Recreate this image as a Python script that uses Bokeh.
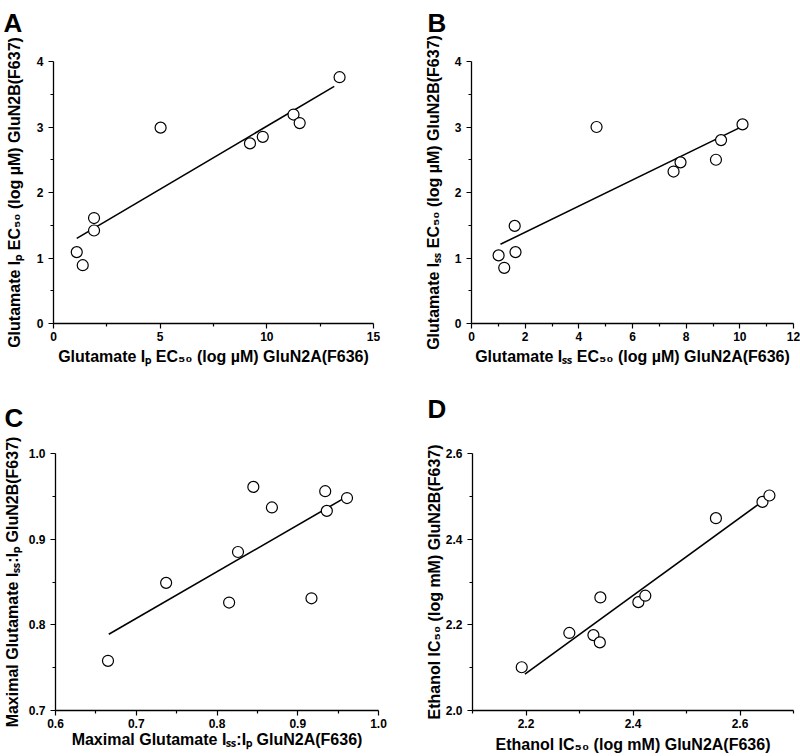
from bokeh.plotting import figure
from bokeh.models import Range1d, FixedTicker, NumeralTickFormatter, Label
from bokeh.layouts import column, row
from bokeh.embed import file_html
from bokeh.resources import INLINE

FONT = "Liberation Sans"

# ---------------- data ----------------
# Panel A: Glutamate Ip EC50
a_x = [1.09, 1.37, 1.90, 1.90, 5.02, 9.21, 9.81, 11.25, 11.54, 13.41]
a_y = [1.09, 0.89, 1.61, 1.42, 2.99, 2.75, 2.85, 3.19, 3.06, 3.76]
a_fit_x = [1.09, 13.16]
a_fit_y = [1.30, 3.62]

# Panel B: Glutamate Iss EC50
b_x = [1.01, 1.22, 1.61, 1.64, 4.66, 7.53, 7.79, 9.11, 9.30, 10.10]
b_y = [1.04, 0.85, 1.49, 1.09, 3.00, 2.32, 2.46, 2.50, 2.80, 3.04]
b_fit_x = [1.08, 10.0]
b_fit_y = [1.21, 2.99]

# Panel C: Maximal glutamate Iss:Ip
c_x = [0.665, 0.737, 0.815, 0.826, 0.845, 0.868, 0.917, 0.934, 0.936, 0.961]
c_y = [0.758, 0.849, 0.826, 0.885, 0.961, 0.937, 0.831, 0.956, 0.933, 0.948]
c_fit_x = [0.666, 0.956]
c_fit_y = [0.789, 0.947]

# Panel D: Ethanol IC50
d_x = [2.192, 2.281, 2.326, 2.338, 2.339, 2.410, 2.423, 2.555, 2.642, 2.655]
d_y = [2.101, 2.181, 2.176, 2.159, 2.264, 2.253, 2.268, 2.449, 2.487, 2.502]
d_fit_x = [2.198, 2.633]
d_fit_y = [2.085, 2.480]

# ticks
a_xticks = [0, 5, 10, 15]
a_xminor = [2.5, 7.5, 12.5]
a_yticks = [0, 1, 2, 3, 4]
a_yminor = [0.5, 1.5, 2.5, 3.5]

b_xticks = [0, 2, 4, 6, 8, 10, 12]
b_xminor = [1, 3, 5, 7, 9, 11]
b_yticks = [0, 1, 2, 3, 4]
b_yminor = [0.5, 1.5, 2.5, 3.5]

c_xticks = [0.6, 0.7, 0.8, 0.9, 1.0]
c_xminor = [0.65, 0.75, 0.85, 0.95]
c_yticks = [0.7, 0.8, 0.9, 1.0]
c_yminor = [0.75, 0.85, 0.95]

d_xticks = [2.2, 2.4, 2.6]
d_xminor = [2.1, 2.3, 2.5, 2.7]
d_yticks = [2.0, 2.2, 2.4, 2.6]
d_yminor = [2.1, 2.3, 2.5]

# titles
a_xtitle = "Glutamate I\u209a EC\u2085\u2080 (log \u00b5M) GluN2A(F636)"
a_ytitle = "Glutamate I\u209a EC\u2085\u2080 (log \u00b5M) GluN2B(F637)"
b_xtitle = "Glutamate I\u209b\u209b EC\u2085\u2080 (log \u00b5M) GluN2A(F636)"
b_ytitle = "Glutamate I\u209b\u209b EC\u2085\u2080 (log \u00b5M) GluN2B(F637)"
c_xtitle = "Maximal Glutamate I\u209b\u209b:I\u209a GluN2A(F636)"
c_ytitle = "Maximal Glutamate I\u209b\u209b:I\u209a GluN2B(F637)"
d_xtitle = "Ethanol IC\u2085\u2080 (log mM) GluN2A(F636)"
d_ytitle = "Ethanol IC\u2085\u2080 (log mM) GluN2B(F637)"

W, H = 400, 378


def panel(origin, frame, xr, yr, xt, xm, yt, ym, xs, ys, fx, fy,
          letter, letter_pos, xtitle, xstand, ytitle, ystand, fmt):
    ox, oy = origin
    fl, ft, fw, fh = frame
    bl = fl - ox
    bt = ft - oy
    p = figure(width=W, height=H, x_range=Range1d(*xr), y_range=Range1d(*yr),
               output_backend="svg", toolbar_location=None,
               min_border_left=bl, min_border_right=W - bl - fw,
               min_border_top=bt, min_border_bottom=H - bt - fh,
               background_fill_color="white", border_fill_color="white")
    p.grid.visible = False
    p.outline_line_color = None

    p.xaxis.ticker = FixedTicker(ticks=xt, minor_ticks=xm)
    p.yaxis.ticker = FixedTicker(ticks=yt, minor_ticks=ym)
    if fmt is not None:
        p.xaxis.formatter = NumeralTickFormatter(format=fmt)
        p.yaxis.formatter = NumeralTickFormatter(format=fmt)
    for ax in (p.xaxis, p.yaxis):
        ax.axis_line_color = "black"
        ax.axis_line_width = 1.3
        ax.major_tick_line_color = "black"
        ax.major_tick_line_width = 1.2
        ax.minor_tick_line_color = "black"
        ax.minor_tick_line_width = 1.2
        ax.major_tick_out = 5
        ax.major_tick_in = 0
        ax.minor_tick_out = 3
        ax.minor_tick_in = 0
        ax.major_label_text_font = FONT
        ax.major_label_text_font_style = "bold"
        ax.major_label_text_font_size = "12px"
        ax.major_label_text_color = "black"
        ax.axis_label_text_font = FONT
        ax.axis_label_text_font_style = "bold"
        ax.axis_label_text_font_size = "16px"
        ax.axis_label_text_color = "black"
    p.xaxis.major_label_standoff = 3
    p.yaxis.major_label_standoff = 5
    p.xaxis.axis_label = xtitle
    p.yaxis.axis_label = ytitle
    p.xaxis.axis_label_standoff = xstand
    p.yaxis.axis_label_standoff = ystand

    p.line(fx, fy, line_color="black", line_width=1.6)
    p.scatter(xs, ys, marker="circle", size=11, fill_color="white",
              line_color="black", line_width=1.2)

    # panel letter, placed in the side panel above the frame (not clipped)
    lx, ly = letter_pos
    p.add_layout(Label(x=lx - fl, y=ft - ly, x_units="screen", y_units="screen",
                       text=letter, text_font=FONT, text_font_style="bold",
                       text_font_size="26px", text_color="black",
                       text_align="left", text_baseline="alphabetic"), "above")
    return p


pA = panel((0, 0), (53, 61, 320, 262), (0, 15), (0, 4),
           a_xticks, a_xminor, a_yticks, a_yminor, a_x, a_y, a_fit_x, a_fit_y,
           "A", (3, 22), a_xtitle, 4, a_ytitle, 11, None)

pB = panel((400, 0), (471, 61, 322, 262), (0, 12), (0, 4),
           b_xticks, b_xminor, b_yticks, b_yminor, b_x, b_y, b_fit_x, b_fit_y,
           "B", (427, 22), b_xtitle, 4, b_ytitle, 10, None)

pC = panel((0, 378), (53, 444, 325, 266), (0.6, 1.0), (0.7, 1.0),
           c_xticks, c_xminor, c_yticks, c_yminor, c_x, c_y, c_fit_x, c_fit_y,
           "C", (2, 408), c_xtitle, 0, c_ytitle, 5, "0.0")

pD = panel((400, 378), (472, 453, 321, 257), (2.1, 2.7), (2.0, 2.6),
           d_xticks, d_xminor, d_yticks, d_yminor, d_x, d_y, d_fit_x, d_fit_y,
           "D", (427, 408), d_xtitle, 5, d_ytitle, 0, "0.0")

layout = column(row(pA, pB), row(pC, pD))
open("out.html", "w").write(file_html(layout, INLINE))
